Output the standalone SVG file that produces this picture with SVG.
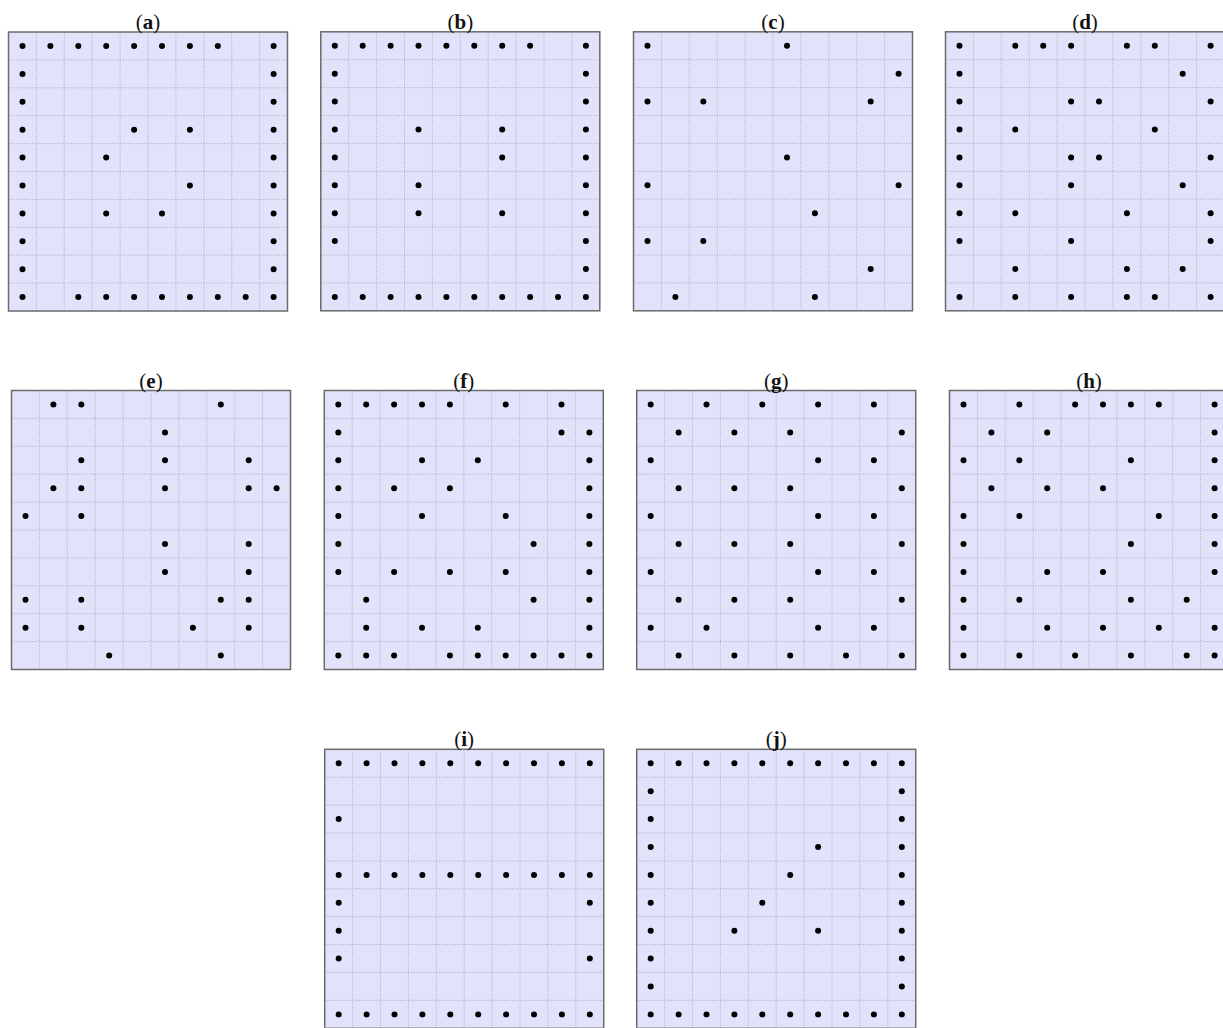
<svg xmlns="http://www.w3.org/2000/svg" width="1223" height="1028" viewBox="0 0 1223 1028">
<style>
.bg{fill:#e2e2fa}
.grid{fill:none;stroke:#9a9aae;stroke-width:0.8;stroke-dasharray:1 1.6}
.border{fill:none;stroke:#6b6b6b;stroke-width:1.5}
.lbl{font-family:"Liberation Serif",serif;font-size:21px;text-anchor:middle;fill:#111}
.b{font-weight:bold}
</style>
<defs>
<circle id="d" r="3" fill="#000"/>
<g id="panel">
<rect class="bg" width="279" height="279"/>
<path class="grid" d="M27.9 0V279M55.8 0V279M83.7 0V279M111.6 0V279M139.5 0V279M167.4 0V279M195.3 0V279M223.2 0V279M251.1 0V279M0 27.9H279M0 55.8H279M0 83.7H279M0 111.6H279M0 139.5H279M0 167.4H279M0 195.3H279M0 223.2H279M0 251.1H279"/>
<rect class="border" width="279" height="279"/>
</g>
<g id="full">
<use href="#d" x="14"/><use href="#d" x="41.9"/><use href="#d" x="69.8"/><use href="#d" x="97.7"/><use href="#d" x="125.6"/><use href="#d" x="153.5"/><use href="#d" x="181.4"/><use href="#d" x="209.3"/><use href="#d" x="237.2"/><use href="#d" x="265.1"/>
</g>
</defs>
<rect width="1223" height="1028" fill="#fff"/>

<g id="panel-a" transform="translate(8.5,32)">
<use href="#panel"/>
<text class="lbl" x="139.5" y="-3">(<tspan class="b">a</tspan>)</text>
<use href="#d" x="14" y="14"/><use href="#d" x="41.9" y="14"/><use href="#d" x="69.8" y="14"/><use href="#d" x="97.7" y="14"/><use href="#d" x="125.6" y="14"/><use href="#d" x="153.5" y="14"/><use href="#d" x="181.4" y="14"/><use href="#d" x="209.3" y="14"/><use href="#d" x="265.1" y="14"/>
<use href="#d" x="14" y="41.9"/><use href="#d" x="265.1" y="41.9"/>
<use href="#d" x="14" y="69.8"/><use href="#d" x="265.1" y="69.8"/>
<use href="#d" x="14" y="97.7"/><use href="#d" x="125.6" y="97.7"/><use href="#d" x="181.4" y="97.7"/><use href="#d" x="265.1" y="97.7"/>
<use href="#d" x="14" y="125.6"/><use href="#d" x="97.7" y="125.6"/><use href="#d" x="265.1" y="125.6"/>
<use href="#d" x="14" y="153.5"/><use href="#d" x="181.4" y="153.5"/><use href="#d" x="265.1" y="153.5"/>
<use href="#d" x="14" y="181.4"/><use href="#d" x="97.7" y="181.4"/><use href="#d" x="153.5" y="181.4"/><use href="#d" x="265.1" y="181.4"/>
<use href="#d" x="14" y="209.3"/><use href="#d" x="265.1" y="209.3"/>
<use href="#d" x="14" y="237.2"/><use href="#d" x="265.1" y="237.2"/>
<use href="#d" x="14" y="265.1"/><use href="#d" x="69.8" y="265.1"/><use href="#d" x="97.7" y="265.1"/><use href="#d" x="125.6" y="265.1"/><use href="#d" x="153.5" y="265.1"/><use href="#d" x="181.4" y="265.1"/><use href="#d" x="209.3" y="265.1"/><use href="#d" x="237.2" y="265.1"/><use href="#d" x="265.1" y="265.1"/>
</g>

<g id="panel-b" transform="translate(320.8,31.8)">
<use href="#panel"/>
<text class="lbl" x="139.5" y="-3">(<tspan class="b">b</tspan>)</text>
<use href="#d" x="14" y="14"/><use href="#d" x="41.9" y="14"/><use href="#d" x="69.8" y="14"/><use href="#d" x="97.7" y="14"/><use href="#d" x="125.6" y="14"/><use href="#d" x="153.5" y="14"/><use href="#d" x="181.4" y="14"/><use href="#d" x="209.3" y="14"/><use href="#d" x="265.1" y="14"/>
<use href="#d" x="14" y="41.9"/><use href="#d" x="265.1" y="41.9"/>
<use href="#d" x="14" y="69.8"/><use href="#d" x="265.1" y="69.8"/>
<use href="#d" x="14" y="97.7"/><use href="#d" x="97.7" y="97.7"/><use href="#d" x="181.4" y="97.7"/><use href="#d" x="265.1" y="97.7"/>
<use href="#d" x="14" y="125.6"/><use href="#d" x="181.4" y="125.6"/><use href="#d" x="265.1" y="125.6"/>
<use href="#d" x="14" y="153.5"/><use href="#d" x="97.7" y="153.5"/><use href="#d" x="265.1" y="153.5"/>
<use href="#d" x="14" y="181.4"/><use href="#d" x="97.7" y="181.4"/><use href="#d" x="181.4" y="181.4"/><use href="#d" x="265.1" y="181.4"/>
<use href="#d" x="14" y="209.3"/><use href="#d" x="265.1" y="209.3"/>
<use href="#d" x="265.1" y="237.2"/>
<use href="#full" y="265.1"/>
</g>

<g id="panel-c" transform="translate(633.5,31.8)">
<use href="#panel"/>
<text class="lbl" x="139.5" y="-3">(<tspan class="b">c</tspan>)</text>
<use href="#d" x="14" y="14"/><use href="#d" x="153.5" y="14"/>
<use href="#d" x="265.1" y="41.9"/>
<use href="#d" x="14" y="69.8"/><use href="#d" x="69.8" y="69.8"/><use href="#d" x="237.2" y="69.8"/>
<use href="#d" x="153.5" y="125.6"/>
<use href="#d" x="14" y="153.5"/><use href="#d" x="265.1" y="153.5"/>
<use href="#d" x="181.4" y="181.4"/>
<use href="#d" x="14" y="209.3"/><use href="#d" x="69.8" y="209.3"/>
<use href="#d" x="237.2" y="237.2"/>
<use href="#d" x="41.9" y="265.1"/><use href="#d" x="181.4" y="265.1"/>
</g>

<g id="panel-d" transform="translate(945.5,31.8)">
<use href="#panel"/>
<text class="lbl" x="139.5" y="-3">(<tspan class="b">d</tspan>)</text>
<use href="#d" x="14" y="14"/><use href="#d" x="69.8" y="14"/><use href="#d" x="97.7" y="14"/><use href="#d" x="125.6" y="14"/><use href="#d" x="181.4" y="14"/><use href="#d" x="209.3" y="14"/><use href="#d" x="265.1" y="14"/>
<use href="#d" x="14" y="41.9"/><use href="#d" x="237.2" y="41.9"/>
<use href="#d" x="14" y="69.8"/><use href="#d" x="125.6" y="69.8"/><use href="#d" x="153.5" y="69.8"/><use href="#d" x="265.1" y="69.8"/>
<use href="#d" x="14" y="97.7"/><use href="#d" x="69.8" y="97.7"/><use href="#d" x="209.3" y="97.7"/>
<use href="#d" x="14" y="125.6"/><use href="#d" x="125.6" y="125.6"/><use href="#d" x="153.5" y="125.6"/><use href="#d" x="265.1" y="125.6"/>
<use href="#d" x="14" y="153.5"/><use href="#d" x="125.6" y="153.5"/><use href="#d" x="237.2" y="153.5"/>
<use href="#d" x="14" y="181.4"/><use href="#d" x="69.8" y="181.4"/><use href="#d" x="181.4" y="181.4"/><use href="#d" x="265.1" y="181.4"/>
<use href="#d" x="14" y="209.3"/><use href="#d" x="125.6" y="209.3"/><use href="#d" x="265.1" y="209.3"/>
<use href="#d" x="69.8" y="237.2"/><use href="#d" x="181.4" y="237.2"/><use href="#d" x="237.2" y="237.2"/>
<use href="#d" x="14" y="265.1"/><use href="#d" x="69.8" y="265.1"/><use href="#d" x="125.6" y="265.1"/><use href="#d" x="181.4" y="265.1"/><use href="#d" x="209.3" y="265.1"/><use href="#d" x="265.1" y="265.1"/>
</g>

<g id="panel-e" transform="translate(11.5,390.5)">
<use href="#panel"/>
<text class="lbl" x="139.5" y="-3">(<tspan class="b">e</tspan>)</text>
<use href="#d" x="41.9" y="14"/><use href="#d" x="69.8" y="14"/><use href="#d" x="209.3" y="14"/>
<use href="#d" x="153.5" y="41.9"/>
<use href="#d" x="69.8" y="69.8"/><use href="#d" x="153.5" y="69.8"/><use href="#d" x="237.2" y="69.8"/>
<use href="#d" x="41.9" y="97.7"/><use href="#d" x="69.8" y="97.7"/><use href="#d" x="153.5" y="97.7"/><use href="#d" x="237.2" y="97.7"/><use href="#d" x="265.1" y="97.7"/>
<use href="#d" x="14" y="125.6"/><use href="#d" x="69.8" y="125.6"/>
<use href="#d" x="153.5" y="153.5"/><use href="#d" x="237.2" y="153.5"/>
<use href="#d" x="153.5" y="181.4"/><use href="#d" x="237.2" y="181.4"/>
<use href="#d" x="14" y="209.3"/><use href="#d" x="69.8" y="209.3"/><use href="#d" x="209.3" y="209.3"/><use href="#d" x="237.2" y="209.3"/>
<use href="#d" x="14" y="237.2"/><use href="#d" x="69.8" y="237.2"/><use href="#d" x="181.4" y="237.2"/><use href="#d" x="237.2" y="237.2"/>
<use href="#d" x="97.7" y="265.1"/><use href="#d" x="209.3" y="265.1"/>
</g>

<g id="panel-f" transform="translate(324.3,390.5)">
<use href="#panel"/>
<text class="lbl" x="139.5" y="-3">(<tspan class="b">f</tspan>)</text>
<use href="#d" x="14" y="14"/><use href="#d" x="41.9" y="14"/><use href="#d" x="69.8" y="14"/><use href="#d" x="97.7" y="14"/><use href="#d" x="125.6" y="14"/><use href="#d" x="181.4" y="14"/><use href="#d" x="237.2" y="14"/>
<use href="#d" x="14" y="41.9"/><use href="#d" x="237.2" y="41.9"/><use href="#d" x="265.1" y="41.9"/>
<use href="#d" x="14" y="69.8"/><use href="#d" x="97.7" y="69.8"/><use href="#d" x="153.5" y="69.8"/><use href="#d" x="265.1" y="69.8"/>
<use href="#d" x="14" y="97.7"/><use href="#d" x="69.8" y="97.7"/><use href="#d" x="125.6" y="97.7"/><use href="#d" x="265.1" y="97.7"/>
<use href="#d" x="14" y="125.6"/><use href="#d" x="97.7" y="125.6"/><use href="#d" x="181.4" y="125.6"/><use href="#d" x="265.1" y="125.6"/>
<use href="#d" x="14" y="153.5"/><use href="#d" x="209.3" y="153.5"/><use href="#d" x="265.1" y="153.5"/>
<use href="#d" x="14" y="181.4"/><use href="#d" x="69.8" y="181.4"/><use href="#d" x="125.6" y="181.4"/><use href="#d" x="181.4" y="181.4"/><use href="#d" x="265.1" y="181.4"/>
<use href="#d" x="41.9" y="209.3"/><use href="#d" x="209.3" y="209.3"/><use href="#d" x="265.1" y="209.3"/>
<use href="#d" x="41.9" y="237.2"/><use href="#d" x="97.7" y="237.2"/><use href="#d" x="153.5" y="237.2"/><use href="#d" x="265.1" y="237.2"/>
<use href="#d" x="14" y="265.1"/><use href="#d" x="41.9" y="265.1"/><use href="#d" x="69.8" y="265.1"/><use href="#d" x="125.6" y="265.1"/><use href="#d" x="153.5" y="265.1"/><use href="#d" x="181.4" y="265.1"/><use href="#d" x="209.3" y="265.1"/><use href="#d" x="237.2" y="265.1"/><use href="#d" x="265.1" y="265.1"/>
</g>

<g id="panel-g" transform="translate(636.7,390.5)">
<use href="#panel"/>
<text class="lbl" x="139.5" y="-3">(<tspan class="b">g</tspan>)</text>
<use href="#d" x="14" y="14"/><use href="#d" x="69.8" y="14"/><use href="#d" x="125.6" y="14"/><use href="#d" x="181.4" y="14"/><use href="#d" x="237.2" y="14"/>
<use href="#d" x="41.9" y="41.9"/><use href="#d" x="97.7" y="41.9"/><use href="#d" x="153.5" y="41.9"/><use href="#d" x="265.1" y="41.9"/>
<use href="#d" x="14" y="69.8"/><use href="#d" x="181.4" y="69.8"/><use href="#d" x="237.2" y="69.8"/>
<use href="#d" x="41.9" y="97.7"/><use href="#d" x="97.7" y="97.7"/><use href="#d" x="153.5" y="97.7"/><use href="#d" x="265.1" y="97.7"/>
<use href="#d" x="14" y="125.6"/><use href="#d" x="181.4" y="125.6"/><use href="#d" x="237.2" y="125.6"/>
<use href="#d" x="41.9" y="153.5"/><use href="#d" x="97.7" y="153.5"/><use href="#d" x="153.5" y="153.5"/><use href="#d" x="265.1" y="153.5"/>
<use href="#d" x="14" y="181.4"/><use href="#d" x="181.4" y="181.4"/><use href="#d" x="237.2" y="181.4"/>
<use href="#d" x="41.9" y="209.3"/><use href="#d" x="97.7" y="209.3"/><use href="#d" x="153.5" y="209.3"/><use href="#d" x="265.1" y="209.3"/>
<use href="#d" x="14" y="237.2"/><use href="#d" x="69.8" y="237.2"/><use href="#d" x="181.4" y="237.2"/><use href="#d" x="237.2" y="237.2"/>
<use href="#d" x="41.9" y="265.1"/><use href="#d" x="97.7" y="265.1"/><use href="#d" x="153.5" y="265.1"/><use href="#d" x="209.3" y="265.1"/><use href="#d" x="265.1" y="265.1"/>
</g>

<g id="panel-h" transform="translate(949.5,390.5)">
<use href="#panel"/>
<text class="lbl" x="139.5" y="-3">(<tspan class="b">h</tspan>)</text>
<use href="#d" x="14" y="14"/><use href="#d" x="69.8" y="14"/><use href="#d" x="125.6" y="14"/><use href="#d" x="153.5" y="14"/><use href="#d" x="181.4" y="14"/><use href="#d" x="209.3" y="14"/><use href="#d" x="265.1" y="14"/>
<use href="#d" x="41.9" y="41.9"/><use href="#d" x="97.7" y="41.9"/><use href="#d" x="265.1" y="41.9"/>
<use href="#d" x="14" y="69.8"/><use href="#d" x="69.8" y="69.8"/><use href="#d" x="181.4" y="69.8"/><use href="#d" x="265.1" y="69.8"/>
<use href="#d" x="41.9" y="97.7"/><use href="#d" x="97.7" y="97.7"/><use href="#d" x="153.5" y="97.7"/><use href="#d" x="265.1" y="97.7"/>
<use href="#d" x="14" y="125.6"/><use href="#d" x="69.8" y="125.6"/><use href="#d" x="209.3" y="125.6"/><use href="#d" x="265.1" y="125.6"/>
<use href="#d" x="14" y="153.5"/><use href="#d" x="181.4" y="153.5"/><use href="#d" x="265.1" y="153.5"/>
<use href="#d" x="14" y="181.4"/><use href="#d" x="97.7" y="181.4"/><use href="#d" x="153.5" y="181.4"/><use href="#d" x="265.1" y="181.4"/>
<use href="#d" x="14" y="209.3"/><use href="#d" x="69.8" y="209.3"/><use href="#d" x="181.4" y="209.3"/><use href="#d" x="237.2" y="209.3"/>
<use href="#d" x="14" y="237.2"/><use href="#d" x="97.7" y="237.2"/><use href="#d" x="153.5" y="237.2"/><use href="#d" x="209.3" y="237.2"/><use href="#d" x="265.1" y="237.2"/>
<use href="#d" x="14" y="265.1"/><use href="#d" x="69.8" y="265.1"/><use href="#d" x="125.6" y="265.1"/><use href="#d" x="181.4" y="265.1"/><use href="#d" x="237.2" y="265.1"/><use href="#d" x="265.1" y="265.1"/>
</g>

<g id="panel-i" transform="translate(324.7,749.3)">
<use href="#panel"/>
<text class="lbl" x="139.5" y="-3">(<tspan class="b">i</tspan>)</text>
<use href="#full" y="14"/>
<use href="#d" x="14" y="69.8"/>
<use href="#full" y="125.6"/>
<use href="#d" x="14" y="153.5"/><use href="#d" x="265.1" y="153.5"/>
<use href="#d" x="14" y="181.4"/>
<use href="#d" x="14" y="209.3"/><use href="#d" x="265.1" y="209.3"/>
<use href="#full" y="265.1"/>
</g>

<g id="panel-j" transform="translate(636.7,749.3)">
<use href="#panel"/>
<text class="lbl" x="139.5" y="-3">(<tspan class="b">j</tspan>)</text>
<use href="#full" y="14"/>
<use href="#d" x="14" y="41.9"/><use href="#d" x="265.1" y="41.9"/>
<use href="#d" x="14" y="69.8"/><use href="#d" x="265.1" y="69.8"/>
<use href="#d" x="14" y="97.7"/><use href="#d" x="181.4" y="97.7"/><use href="#d" x="265.1" y="97.7"/>
<use href="#d" x="14" y="125.6"/><use href="#d" x="153.5" y="125.6"/><use href="#d" x="265.1" y="125.6"/>
<use href="#d" x="14" y="153.5"/><use href="#d" x="125.6" y="153.5"/><use href="#d" x="265.1" y="153.5"/>
<use href="#d" x="14" y="181.4"/><use href="#d" x="97.7" y="181.4"/><use href="#d" x="181.4" y="181.4"/><use href="#d" x="265.1" y="181.4"/>
<use href="#d" x="14" y="209.3"/><use href="#d" x="265.1" y="209.3"/>
<use href="#d" x="14" y="237.2"/><use href="#d" x="265.1" y="237.2"/>
<use href="#full" y="265.1"/>
</g>
</svg>
